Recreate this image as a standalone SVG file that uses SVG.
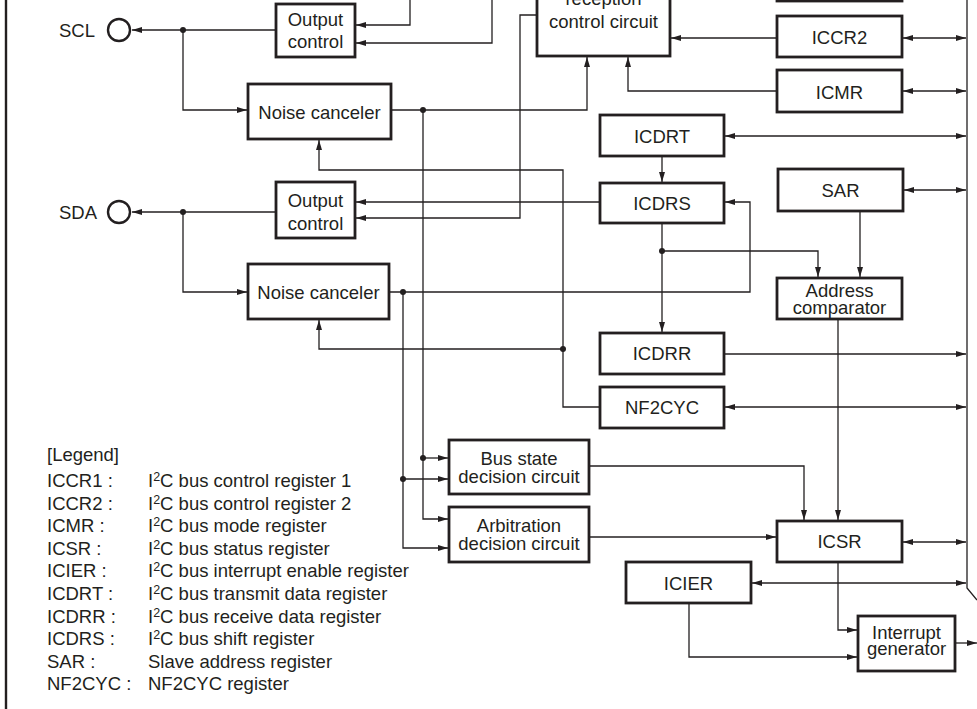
<svg xmlns="http://www.w3.org/2000/svg" width="977" height="709" viewBox="0 0 977 709">
  <style>
    .box { fill: #fff; stroke: #231f20; stroke-width: 2.8; }
    .t { font-family: "Liberation Sans", Arial, sans-serif; font-size: 18.5px; fill: #231f20; text-anchor: middle; }
    .lg { font-family: "Liberation Sans", Arial, sans-serif; font-size: 18.5px; fill: #231f20; }
    .w { fill: none; stroke: #231f20; stroke-width: 1.3; }
    .a { marker-end: url(#ah); }
    .b { marker-start: url(#ah); marker-end: url(#ah); }
    .dot { fill: #231f20; }
    .pin { fill: #fff; stroke: #231f20; stroke-width: 2.4; }
  </style>
  <defs>
    <marker id="ah" markerUnits="userSpaceOnUse" markerWidth="10" markerHeight="6" refX="10" refY="3" orient="auto-start-reverse">
      <path d="M0,0 L10,3 L0,6 z" fill="#231f20"/>
    </marker>
  </defs>

  <rect width="977" height="709" fill="#fff"/>
  <!-- module frame, left edge -->
  <line x1="6" y1="0" x2="6" y2="709" stroke="#231f20" stroke-width="2.4"/>

  <g id="connectors">
    <!-- internal bus edge -->
    <path class="w" d="M967,0 V588 L977,600"/>
    <!-- SCL side -->
    <path class="w a" d="M276,30 H132"/>
    <path class="w a" d="M183,30 V110 H247"/>
    <path class="w a" d="M410,0 V25 H356"/>
    <path class="w a" d="M492,0 V43 H356"/>
    <path class="w a" d="M391,110 H587 V57"/>
    <path class="w a" d="M423,110 V519 H448"/>
    <path class="w a" d="M423,458 H448"/>
    <path class="w a" d="M600,407 H563 V170 H319 V140"/>
    <path class="w a" d="M563,349 H319 V320"/>
    <!-- SDA side -->
    <path class="w a" d="M276,212 H132"/>
    <path class="w a" d="M183,212 V292 H247"/>
    <path class="w a" d="M389,292 H750 V202 H725"/>
    <path class="w a" d="M403,292 V548 H448"/>
    <path class="w a" d="M403,479 H448"/>
    <path class="w a" d="M600,202 H356"/>
    <path class="w a" d="M537,15 H520 V218 H356"/>
    <!-- registers to control circuit -->
    <path class="w a" d="M777,38 H671"/>
    <path class="w a" d="M777,91 H628 V57"/>
    <!-- data path -->
    <path class="w a" d="M662,156 V182"/>
    <path class="w a" d="M662,223 V332"/>
    <path class="w a" d="M662,251 H818 V277"/>
    <path class="w a" d="M860,211 V277"/>
    <path class="w a" d="M838,319 V520"/>
    <!-- status and interrupt -->
    <path class="w a" d="M589,466 H804 V520"/>
    <path class="w a" d="M589,537 H776"/>
    <path class="w a" d="M838,562 V630 H857"/>
    <path class="w a" d="M689,603 V657 H857"/>
    <path class="w a" d="M955,643 H977"/>
    <!-- internal bus connections -->
    <path class="w b" d="M903,38 H966"/>
    <path class="w b" d="M903,91 H966"/>
    <path class="w b" d="M725,136 H966"/>
    <path class="w b" d="M904,190 H966"/>
    <path class="w a" d="M725,354 H966"/>
    <path class="w b" d="M725,407 H966"/>
    <path class="w b" d="M903,542 H966"/>
    <path class="w b" d="M752,583 H966"/>
    <!-- junctions -->
    <circle class="dot" cx="183" cy="30" r="3"/>
    <circle class="dot" cx="423" cy="110" r="3"/>
    <circle class="dot" cx="183" cy="212" r="3"/>
    <circle class="dot" cx="403" cy="292" r="3"/>
    <circle class="dot" cx="662" cy="251" r="3"/>
    <circle class="dot" cx="563" cy="349" r="3"/>
    <circle class="dot" cx="423" cy="458" r="3"/>
    <circle class="dot" cx="403" cy="479" r="3"/>
  </g>

  <g id="scl">
    <circle class="pin" cx="119" cy="30" r="11"/>
    <text class="lg" x="59" y="37">SCL</text>
  </g>
  <g id="sda">
    <circle class="pin" cx="119" cy="212" r="11"/>
    <text class="lg" x="59" y="219">SDA</text>
  </g>

  <g id="output-control-scl">
    <rect class="box" x="276" y="4" width="79" height="53"/>
    <text class="t" x="315.5" y="25.5">Output</text>
    <text class="t" x="315.5" y="48">control</text>
  </g>
  <g id="noise-canceler-scl">
    <rect class="box" x="248" y="84" width="143" height="55"/>
    <text class="t" x="319.5" y="119">Noise canceler</text>
  </g>
  <g id="output-control-sda">
    <rect class="box" x="276" y="182" width="79" height="56"/>
    <text class="t" x="315.5" y="207">Output</text>
    <text class="t" x="315.5" y="229.5">control</text>
  </g>
  <g id="noise-canceler-sda">
    <rect class="box" x="248" y="264" width="141" height="55"/>
    <text class="t" x="318.5" y="298.5">Noise canceler</text>
  </g>
  <g id="txrx-control">
    <rect class="box" x="537" y="-40" width="133" height="96"/>
    <text class="t" x="603.5" y="5">reception</text>
    <text class="t" x="603.5" y="28">control circuit</text>
  </g>
  <g id="iccr1">
    <rect class="box" x="777" y="-40" width="125" height="41"/>
  </g>
  <g id="iccr2">
    <rect class="box" x="777" y="16" width="125" height="41"/>
    <text class="t" x="839.5" y="43.5">ICCR2</text>
  </g>
  <g id="icmr">
    <rect class="box" x="777" y="70" width="125" height="42"/>
    <text class="t" x="839.5" y="98.5">ICMR</text>
  </g>
  <g id="icdrt">
    <rect class="box" x="600" y="115" width="124" height="41"/>
    <text class="t" x="662" y="142.5">ICDRT</text>
  </g>
  <g id="icdrs">
    <rect class="box" x="600" y="183" width="124" height="40"/>
    <text class="t" x="662" y="210">ICDRS</text>
  </g>
  <g id="sar">
    <rect class="box" x="778" y="169" width="125" height="42"/>
    <text class="t" x="840.5" y="196.5">SAR</text>
  </g>
  <g id="address-comparator">
    <rect class="box" x="777" y="278" width="125" height="41"/>
    <text class="t" x="839.5" y="296.5">Address</text>
    <text class="t" x="839.5" y="313.5">comparator</text>
  </g>
  <g id="icdrr">
    <rect class="box" x="600" y="333" width="124" height="41"/>
    <text class="t" x="662" y="360">ICDRR</text>
  </g>
  <g id="nf2cyc">
    <rect class="box" x="600" y="387" width="124" height="41"/>
    <text class="t" x="662" y="414">NF2CYC</text>
  </g>
  <g id="bus-state">
    <rect class="box" x="449" y="440" width="140" height="54"/>
    <text class="t" x="519" y="465">Bus state</text>
    <text class="t" x="519" y="482.5">decision circuit</text>
  </g>
  <g id="arbitration">
    <rect class="box" x="449" y="507" width="140" height="55"/>
    <text class="t" x="519" y="532">Arbitration</text>
    <text class="t" x="519" y="549.5">decision circuit</text>
  </g>
  <g id="icsr">
    <rect class="box" x="777" y="521" width="125" height="41"/>
    <text class="t" x="839.5" y="547.5">ICSR</text>
  </g>
  <g id="icier">
    <rect class="box" x="626" y="562" width="125" height="41"/>
    <text class="t" x="688.5" y="589.5">ICIER</text>
  </g>
  <g id="interrupt-generator">
    <rect class="box" x="858" y="616" width="97" height="55"/>
    <text class="t" x="906.5" y="638.5">Interrupt</text>
    <text class="t" x="906.5" y="655">generator</text>
  </g>

  <g id="legend" class="lg">
    <text x="47" y="461">[Legend]</text>
    <text x="47" y="487">ICCR1 :</text>
    <text x="148" y="487">I<tspan font-size="12.5" dy="-6">2</tspan><tspan dy="6">C bus control register 1</tspan></text>
    <text x="47" y="509.6">ICCR2 :</text>
    <text x="148" y="509.6">I<tspan font-size="12.5" dy="-6">2</tspan><tspan dy="6">C bus control register 2</tspan></text>
    <text x="47" y="532.2">ICMR :</text>
    <text x="148" y="532.2">I<tspan font-size="12.5" dy="-6">2</tspan><tspan dy="6">C bus mode register</tspan></text>
    <text x="47" y="554.8">ICSR :</text>
    <text x="148" y="554.8">I<tspan font-size="12.5" dy="-6">2</tspan><tspan dy="6">C bus status register</tspan></text>
    <text x="47" y="577.4">ICIER :</text>
    <text x="148" y="577.4">I<tspan font-size="12.5" dy="-6">2</tspan><tspan dy="6">C bus interrupt enable register</tspan></text>
    <text x="47" y="600">ICDRT :</text>
    <text x="148" y="600">I<tspan font-size="12.5" dy="-6">2</tspan><tspan dy="6">C bus transmit data register</tspan></text>
    <text x="47" y="622.6">ICDRR :</text>
    <text x="148" y="622.6">I<tspan font-size="12.5" dy="-6">2</tspan><tspan dy="6">C bus receive data register</tspan></text>
    <text x="47" y="645.2">ICDRS :</text>
    <text x="148" y="645.2">I<tspan font-size="12.5" dy="-6">2</tspan><tspan dy="6">C bus shift register</tspan></text>
    <text x="47" y="667.8">SAR :</text>
    <text x="148" y="667.8">Slave address register</text>
    <text x="47" y="690.4">NF2CYC :</text>
    <text x="148" y="690.4">NF2CYC register</text>
  </g>
</svg>
